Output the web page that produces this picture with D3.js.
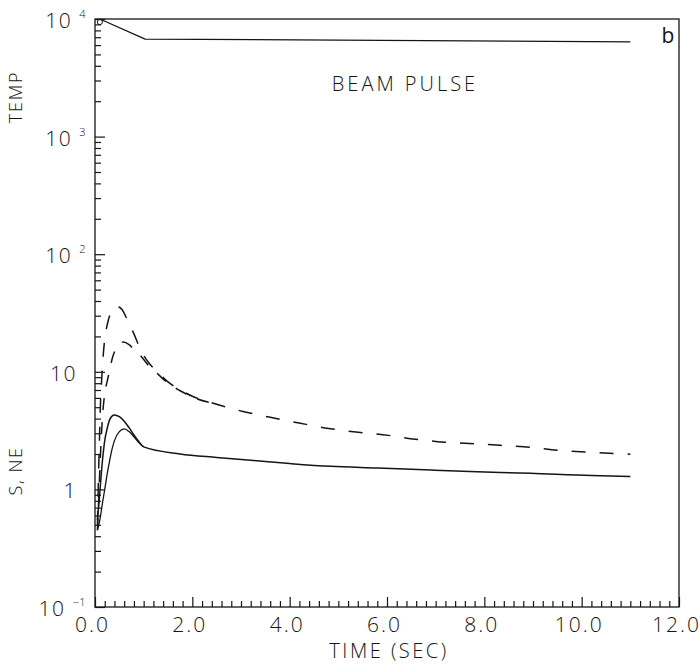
<!DOCTYPE html>
<html>
<head>
<meta charset="utf-8">
<script src="https://cdn.jsdelivr.net/npm/d3@7"></script>
<style>
  html, body { margin: 0; padding: 0; background: #fff; }
  svg { display: block; }
  svg text { font-family: "Open Sans", "Liberation Sans", sans-serif; font-weight: 300; }
</style>
</head>
<body>
<svg id="chart" width="700" height="668"></svg>
<script>
// ---- axis tick values and labels ----
const timeTicks = [0, 2, 4, 6, 8, 10, 12];
const timeTickLabels = ["0.0", "2.0", "4.0", "6.0", "8.0", "10.0", "12.0"];
const decadeValues = [0.1, 1, 10, 100, 1000, 10000];
const decadeBase = ["10", "1", "10", "10", "10", "10"];
const decadeSup = ["\u22121", "", "", "2", "3", "4"];

// ---- temperature (top curve) ----
const tempTime = [0.1, 1.03, 11.0];
const tempValue = [10000, 6750, 6400];

// ---- dashed pair (higher peak / lower peak) ----
const dashHighTime = [0.05, 0.07, 0.09, 0.11, 0.14, 0.17, 0.2, 0.25, 0.3, 0.35, 0.45, 0.55, 0.66, 0.8, 0.95, 1.1, 1.3, 1.5, 1.75, 2.0,
                      2.43, 3.04, 3.6, 4.22, 4.8, 5.41, 6.03, 6.58, 7.0, 7.6, 8.33, 8.95, 9.5, 10.2, 11.0];
const dashHighValue = [0.5, 1.2, 2.5, 5, 9, 14, 19, 25, 30, 33.5, 36, 34, 28, 21, 15, 12, 9.8, 8.2, 7.0, 6.2,
                       5.4, 4.6, 4.1, 3.65, 3.3, 3.06, 2.88, 2.67, 2.56, 2.47, 2.37, 2.28, 2.15, 2.07, 1.99];
const dashLowTime = [0.05, 0.08, 0.1, 0.13, 0.16, 0.2, 0.25, 0.3, 0.35, 0.4, 0.5, 0.58, 0.7, 0.8, 0.95, 1.1, 1.3, 1.5, 1.75, 2.0, 2.43];
const dashLowValue = [0.45, 0.9, 1.5, 2.8, 4.5, 6.5, 8.3, 10.2, 12.8, 14.8, 17.2, 17.9, 17.0, 15.5, 13.5, 11.3, 9.5, 8.0, 6.9, 6.1, 5.4];

// ---- solid pair (higher peak / lower peak) ----
const solidHighTime = [0.05, 0.1, 0.15, 0.2, 0.25, 0.3, 0.35, 0.4, 0.5, 0.6, 0.7, 0.8, 0.9, 1.0,
                       1.75, 2.5, 3.2, 4.0, 4.84, 5.8, 6.9, 7.7, 8.95, 10.2, 11.0];
const solidHighValue = [0.55, 0.95, 1.7, 2.6, 3.3, 3.9, 4.2, 4.3, 4.15, 3.8, 3.35, 2.9, 2.55, 2.3,
                        2.0, 1.87, 1.77, 1.66, 1.57, 1.52, 1.46, 1.42, 1.37, 1.31, 1.29];
const solidLowTime = [0.05, 0.1, 0.15, 0.2, 0.25, 0.3, 0.35, 0.4, 0.5, 0.6, 0.7, 0.8, 0.9, 1.0];
const solidLowValue = [0.45, 0.55, 0.75, 1.0, 1.35, 1.75, 2.2, 2.6, 3.1, 3.27, 3.1, 2.8, 2.5, 2.3];

// ---- layout ----
const svg = d3.select("#chart");
const plotLeft = 95, plotRight = 679, plotTop = 19, plotBottom = 607;
const ink = "#151515";

const x = d3.scaleLinear().domain([0, 12]).range([plotLeft, plotRight]);
const y = d3.scaleLog().domain([0.1, 10000]).range([plotBottom, plotTop]);

const zip = (t, v) => t.map((d, i) => [d, v[i]]);

// frame
svg.append("rect")
  .attr("x", plotLeft).attr("y", plotTop)
  .attr("width", plotRight - plotLeft).attr("height", plotBottom - plotTop)
  .attr("fill", "none").attr("stroke", ink).attr("stroke-width", 1.3);

// ---- y axis ticks (inside) ----
const minorY = [];
decadeValues.slice(0, -1).forEach(d => { for (let m = 2; m <= 9; m++) minorY.push(d * m); });

function styleAxis(g) {
  g.select(".domain").remove();
  g.attr("font-family", null).attr("font-size", null);
  g.selectAll(".tick line").attr("stroke", ink).attr("stroke-width", 1.2);
}
svg.append("g").attr("transform", `translate(${plotLeft},0)`)
  .call(d3.axisLeft(y).tickValues(minorY).tickSize(-6).tickFormat(""))
  .call(styleAxis);
svg.append("g").attr("transform", `translate(${plotLeft},0)`)
  .call(d3.axisLeft(y).tickValues(decadeValues).tickSize(-10).tickFormat(""))
  .call(styleAxis);

// decade labels with superscript exponents
const yLab = svg.append("g").attr("fill", ink).attr("font-size", 21).attr("letter-spacing", 1.5);
decadeValues.forEach((v, i) => {
  const hasSup = decadeSup[i] !== "";
  const t = yLab.append("text")
    .attr("x", hasSup ? 86 : 77)
    .attr("y", y(v) + 9)
    .attr("text-anchor", "end");
  t.append("tspan").text(decadeBase[i]);
  if (hasSup) {
    t.append("tspan").attr("dx", 7).attr("dy", -10).attr("font-size", 11)
      .attr("letter-spacing", 0.5).text(decadeSup[i]);
  }
});

// ---- x axis ticks (inside) ----
const minorX = d3.range(1, 60).map(k => k / 5).filter(d => Math.abs(d / 2 - Math.round(d / 2)) > 1e-6);
svg.append("g").attr("transform", `translate(0,${plotBottom})`)
  .call(d3.axisBottom(x).tickValues(minorX).tickSize(-6).tickFormat(""))
  .call(styleAxis);
svg.append("g").attr("transform", `translate(0,${plotBottom})`)
  .call(d3.axisBottom(x).tickValues(timeTicks).tickSize(-10).tickPadding(10)
    .tickFormat((d, i) => timeTickLabels[i]))
  .call(styleAxis)
  .call(g => g.selectAll("text")
    .attr("fill", ink).attr("font-size", 21).attr("letter-spacing", 2)
    .attr("dx", -3));

// ---- axis titles and annotations ----
svg.append("text")
  .attr("x", 389).attr("y", 658).attr("text-anchor", "middle")
  .attr("fill", ink).attr("font-size", 20).attr("letter-spacing", 2.5)
  .text("TIME (SEC)");
svg.append("text")
  .attr("transform", "translate(22,97) rotate(-90)").attr("text-anchor", "middle")
  .attr("fill", ink).attr("font-size", 18).attr("letter-spacing", 1.8)
  .text("TEMP");
svg.append("text")
  .attr("transform", "translate(22,471) rotate(-90)").attr("text-anchor", "middle")
  .attr("fill", ink).attr("font-size", 18).attr("letter-spacing", 1.5)
  .text("S, NE");
svg.append("text")
  .attr("x", 405).attr("y", 91).attr("text-anchor", "middle")
  .attr("fill", ink).attr("font-size", 20).attr("letter-spacing", 3)
  .text("BEAM PULSE");
svg.append("text")
  .attr("x", 668).attr("y", 43).attr("text-anchor", "middle")
  .attr("fill", ink).attr("font-size", 21).style("font-weight", 400)
  .text("b");

// ---- curves ----
const smooth = d3.line().x(d => x(d[0])).y(d => y(d[1])).curve(d3.curveMonotoneX);
const straight = d3.line().x(d => x(d[0])).y(d => y(d[1]));

const curves = svg.append("g").attr("fill", "none").attr("stroke", ink)
  .attr("stroke-linejoin", "round").attr("stroke-linecap", "butt");

curves.append("path").attr("d", straight(zip(tempTime, tempValue))).attr("stroke-width", 1.3);

curves.append("path").attr("d", smooth(zip(dashHighTime, dashHighValue)))
  .attr("stroke-width", 1.5).attr("stroke-dasharray", "14,14");
curves.append("path").attr("d", smooth(zip(dashLowTime, dashLowValue)))
  .attr("stroke-width", 1.5).attr("stroke-dasharray", "12,12");

curves.append("path").attr("d", smooth(zip(solidHighTime, solidHighValue))).attr("stroke-width", 1.5);
curves.append("path").attr("d", smooth(zip(solidLowTime, solidLowValue))).attr("stroke-width", 1.3);

// start marker on the temperature curve
curves.append("circle")
  .attr("cx", x(tempTime[0])).attr("cy", y(tempValue[0]) + 3).attr("r", 2.6)
  .attr("stroke-width", 1);
</script>
</body>
</html>
